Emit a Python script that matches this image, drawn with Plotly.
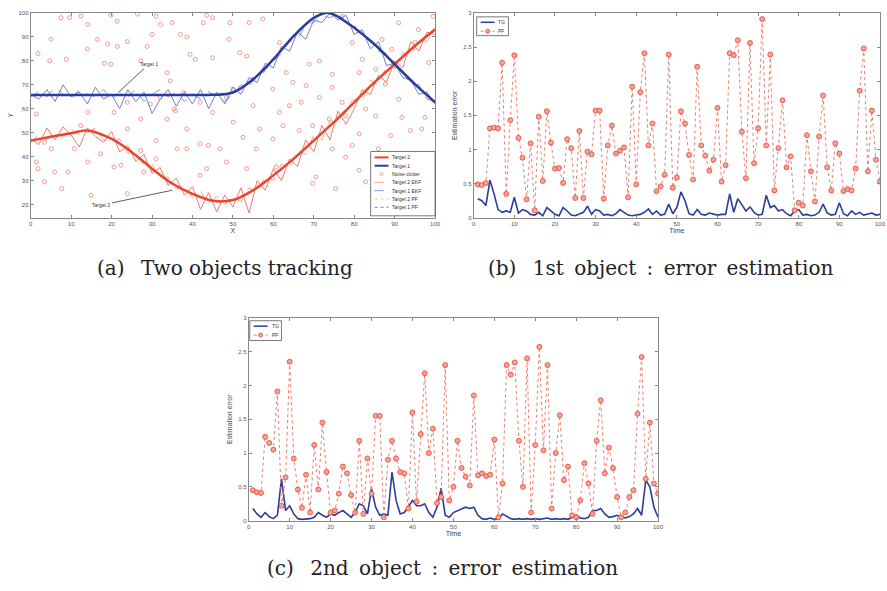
import plotly.graph_objects as go

# ---------------- Panel (a): two objects tracking ----------------
truth_x = [0, 5, 10, 14, 20, 25, 30, 35, 40, 45, 50, 55, 60, 65, 70, 73, 75, 80, 85, 90, 95, 100]
target2_y = [46.7, 48.3, 49.8, 50.9, 47.4, 41.9, 35.0, 28.8, 24.5, 21.6, 21.9, 26.0, 32.2, 39.1, 46.7, 51.4, 54.4, 62.7, 71.0, 78.6, 86.2, 93.1]
target1_y = [65.7, 65.7, 65.7, 65.7, 65.7, 65.7, 65.7, 65.7, 65.7, 65.8, 66.8, 72.3, 80.6, 90.3, 97.9, 100.0, 99.3, 93.8, 86.9, 78.6, 70.3, 62.7]

noisy_x = list(range(0, 101, 2))
target2_pf = [47.5, 45.0, 52.0, 47.0, 52.5, 49.0, 44.0, 52.0, 48.5, 46.0, 50.5, 42.0, 44.5, 38.0, 41.0, 33.0,
              35.5, 28.0, 31.0, 24.0, 27.5, 18.0, 25.0, 17.0, 24.0, 19.0, 27.0, 16.5, 30.0, 26.0, 35.0, 30.0,
              39.0, 36.0, 47.0, 42.0, 53.0, 47.0, 59.0, 53.5, 60.0, 68.0, 66.0, 74.0, 71.0, 80.0, 77.0, 88.0,
              84.0, 92.0, 91.0]
target2_ekf = [46.0, 49.0, 47.0, 50.5, 48.0, 51.5, 49.0, 50.0, 52.0, 47.0, 46.0, 47.5, 41.5, 42.0, 36.5, 37.0,
               31.0, 31.5, 26.5, 28.0, 23.0, 25.5, 20.5, 23.5, 20.0, 23.5, 21.0, 27.0, 25.0, 32.0, 30.0, 37.0,
               35.0, 42.5, 41.0, 49.0, 47.0, 55.0, 54.0, 61.0, 64.0, 63.0, 72.0, 70.0, 78.0, 77.0, 83.5, 82.0,
               89.0, 88.0, 94.0]
target1_pf = [66, 64, 68, 63, 70, 65, 67, 62, 69, 64, 66, 60, 68, 63, 67, 58, 64, 68, 61, 67, 62, 68, 60, 67, 62,
              69, 66, 73, 71, 79, 77, 86, 84, 92, 89, 97, 96, 100, 97, 99, 91, 93, 85, 88, 78, 79, 73, 72, 66, 67, 62]
target1_ekf = [65, 67, 65, 69, 66, 64, 68, 66, 65, 68, 64, 67, 65, 68, 63, 66, 68, 65, 67, 63, 66, 64, 67, 65, 63,
               66, 70, 69, 75, 76, 80, 83, 88, 89, 95, 96, 99, 98, 100, 96, 95, 90, 89, 84, 83, 77, 76, 70, 70, 64, 63]

clutter_x = [7.5, 9.6, 12.4, 19.8, 21.4, 26.4, 31, 35, 38.6, 43.5, 45, 49, 54, 57.4, 5, 1.8, 4.7, 8.8, 14, 18.2,
             19.8, 19, 21.4, 23.9, 27.2, 28.8, 30, 33.7, 34.5, 39.4, 40.7, 45, 32, 29.6, 23.9, 37.8, 35.4, 41.9,
             48.4, 50, 45, 38.6, 33.7, 31, 27.2, 23.9, 20.6, 41.9, 36.2, 31, 28, 20.6, 22.3, 17.3, 10.8, 5.1, 1.4,
             1.8, 5.9, 9.2, 3.4, 7.7, 14.9, 23.9, 43.9, 46.8, 48.4, 41.9, 43.5, 53.4, 55.8, 60.7, 59.9, 62.4, 66.4,
             69.7, 61.5, 64, 64.8, 63.2, 57.4, 59.9, 68.1, 68.9, 71.4, 74.6, 74.6, 77, 71.4, 77.9, 81.2, 82, 85.3,
             86.9, 91, 95.1, 95.9, 98.4, 91, 91.8, 97.5, 96.7, 93.9, 82.8, 85.3, 81.2, 79.5, 74.6, 77.9, 82.8, 81.2,
             69.7, 70.5, 86, 89, 99.5, 87.7, 89.3, 77, 79.5, 61.5, 53.4, 55, 49.3, 51.7, 42.7, 32.1, 37, 14.1, 16.5,
             1.4, 3.4, 14.1, 12.4, 14.1, 27.2, 38.6, 35.8, 50.1, 55, 56.6, 52.5, 66.9, 73.8, 75.4]
clutter_y = [98, 98, 98.6, 99, 96.5, 99.5, 98.6, 96, 90, 99, 98, 89, 96, 97.5, 89, 83, 80, 80.6, 85, 79,
             78.6, 87, 86, 88, 80, 86, 91, 75, 71.6, 82.7, 80.6, 81.3, 64.7, 62, 62.7, 66.8, 60, 62.7,
             64.7, 68.2, 58.5, 51.6, 55.7, 46.7, 55.7, 51.6, 58.5, 45.4, 43.3, 39.1, 33.6, 35.7, 36.4, 41.2, 43.3, 43.3, 37.8,
             35, 33.6, 33.6, 29.5, 26.7, 23.9, 24.6, 44.7, 43.3, 37.8, 32.2, 35, 35, 43.3, 35.7, 47.4, 53, 50.9,
             53, 58.5, 61.3, 71, 75.1, 75.8, 68.2, 69.6, 78.6, 80, 68.9, 74.4, 62.7, 64.7, 57.1, 75.1, 80.6, 76.5,
             88.9, 95.9, 87.6, 93.1, 79.3, 64, 56.4, 56.4, 51.6, 50.9, 59.9, 57.1, 49.5, 44.7, 43.3, 39.8, 29.5, 34.3,
             28.8, 31.5, 43.3, 48.8, 98.6, 70.3, 84.8, 98.6, 87.6, 87.6, 82, 72.3, 95.9, 83.4, 95.9, 95.2, 91, 95.2, 88.9,
             57.8, 46, 58.5, 53, 37.8, 42.6, 43.3, 59.2, 54.4, 61.3, 51.6, 48.1, 62.7, 55.7, 26.7]

# ---------------- Panel (b): 1st object error ----------------
time_b = list(range(1, 101))
b_tg = [0.28, 0.25, 0.18, 0.55, 0.35, 0.12, 0.08, 0.10, 0.08, 0.30,
        0.07, 0.12, 0.10, 0.05, 0.04, 0.08, 0.03, 0.15, 0.10, 0.05,
        0.03, 0.15, 0.10, 0.04, 0.03, 0.05, 0.08, 0.17, 0.05, 0.12,
        0.10, 0.04, 0.05, 0.03, 0.06, 0.12, 0.08, 0.04, 0.03, 0.04,
        0.05, 0.08, 0.13, 0.05, 0.10, 0.04, 0.05, 0.20, 0.06, 0.15,
        0.38, 0.25, 0.06, 0.04, 0.12, 0.05, 0.04, 0.07, 0.05, 0.04,
        0.05, 0.05, 0.35, 0.08, 0.28, 0.18, 0.10, 0.16, 0.08, 0.04,
        0.05, 0.33, 0.15, 0.18, 0.10, 0.12, 0.06, 0.03, 0.10, 0.12,
        0.04, 0.05, 0.03, 0.04, 0.08, 0.20, 0.07, 0.04, 0.05, 0.22,
        0.06, 0.03, 0.10, 0.05, 0.08, 0.04, 0.05, 0.07, 0.04, 0.05]
b_pf = [0.49, 0.48, 0.51, 1.31, 1.32, 1.31, 2.27, 0.35, 1.43, 2.38,
        1.17, 0.88, 0.27, 1.09, 0.11, 1.48, 0.54, 1.56, 1.10, 0.72,
        0.73, 0.51, 1.15, 1.02, 0.29, 1.27, 0.29, 0.97, 0.93, 1.57,
        1.57, 0.28, 1.06, 1.35, 0.94, 0.98, 1.03, 0.30, 1.92, 0.49,
        1.84, 2.41, 1.06, 1.38, 0.39, 0.46, 0.63, 2.39, 0.44, 0.59,
        1.56, 1.38, 0.92, 0.56, 2.21, 1.06, 0.91, 0.69, 0.85, 1.61,
        0.53, 0.77, 2.41, 2.38, 2.60, 1.26, 0.58, 2.56, 0.80, 1.31,
        2.91, 1.06, 2.39, 0.40, 1.02, 1.72, 0.74, 0.90, 0.11, 0.22,
        0.18, 1.21, 0.68, 0.24, 1.19, 1.79, 0.74, 0.40, 1.09, 0.94,
        0.39, 0.42, 0.40, 0.72, 1.86, 2.48, 0.68, 1.57, 0.85, 0.53]

# ---------------- Panel (c): 2nd object error ----------------
time_c = list(range(1, 101))
c_tg = [0.18, 0.10, 0.05, 0.12, 0.06, 0.03, 0.08, 0.62, 0.15, 0.22,
        0.10, 0.03, 0.02, 0.02, 0.03, 0.05, 0.12, 0.08, 0.05, 0.10,
        0.08, 0.12, 0.15, 0.10, 0.05, 0.12, 0.25, 0.22, 0.10, 0.47,
        0.20, 0.08, 0.10, 0.08, 0.72, 0.30, 0.10, 0.12, 0.20, 0.30,
        0.22, 0.22, 0.25, 0.12, 0.05, 0.20, 0.48, 0.08, 0.05, 0.12,
        0.15, 0.18, 0.20, 0.18, 0.20, 0.08, 0.03, 0.02, 0.04, 0.02,
        0.03, 0.10, 0.06, 0.03, 0.02, 0.03, 0.02, 0.03, 0.02, 0.03,
        0.02, 0.03, 0.04, 0.02, 0.03, 0.02, 0.03, 0.02, 0.05, 0.08,
        0.04, 0.03, 0.05, 0.15, 0.15, 0.18, 0.10, 0.05, 0.06, 0.08,
        0.05, 0.04, 0.06, 0.10, 0.18, 0.08, 0.60, 0.50, 0.20, 0.05]
c_pf = [0.45, 0.42, 0.41, 1.24, 1.15, 1.05, 1.91, 0.22, 0.64, 2.35,
        0.92, 0.46, 0.19, 0.68, 0.12, 1.12, 0.46, 1.45, 0.72, 0.12,
        0.15, 0.40, 0.80, 0.70, 0.38, 0.12, 1.18, 0.10, 0.92, 0.40,
        1.55, 1.55, 0.05, 0.90, 1.18, 0.92, 0.72, 0.70, 0.18, 1.60,
        0.28, 1.28, 2.18, 1.00, 1.36, 0.26, 0.35, 2.30, 0.30, 0.50,
        1.18, 0.78, 0.65, 0.52, 1.85, 0.67, 0.70, 0.66, 0.68, 1.20,
        0.05, 0.55, 2.30, 2.16, 2.34, 1.18, 0.50, 2.40, 0.12, 1.12,
        2.57, 1.04, 2.30, 0.18, 1.00, 1.56, 0.60, 0.80, 0.08, 0.05,
        0.30, 0.85, 0.55, 0.10, 1.18, 1.78, 0.70, 1.08, 0.78, 0.35,
        0.05, 0.12, 0.35, 0.45, 1.58, 2.42, 0.62, 1.45, 0.55, 0.40]

a_xticks = list(range(0, 101, 10))
a_yticks = list(range(20, 101, 10))
err_yticks = [0, 0.5, 1, 1.5, 2, 2.5, 3]

legend_a_names = ["Target 2", "Target 1", "Noise clutter", "Target 2 EKF", "Target 1 EKF", "Target 2 PF", "Target 1 PF"]
legend_err_names = ["TG", "PF"]

RED = "#e8442e"
BLUE = "#2b3c99"
LRED = "#f07a6a"
LBLUE = "#6f7fd0"
CLUT = "#f29a90"
TICKFONT = dict(family="Liberation Sans", size=6, color="#555")

fig = go.Figure()

# panel (a)
fig.add_trace(go.Scatter(x=clutter_x, y=clutter_y, mode="markers", name="Noise clutter",
                         marker=dict(symbol="circle-open", size=4, color=CLUT, line=dict(width=1)),
                         xaxis="x", yaxis="y"))
fig.add_trace(go.Scatter(x=noisy_x, y=target2_ekf, mode="lines", name="Target 2 EKF",
                         line=dict(color="#f6a090", width=1, dash="dash"), xaxis="x", yaxis="y"))
fig.add_trace(go.Scatter(x=noisy_x, y=target2_pf, mode="lines", name="Target 2 PF",
                         line=dict(color=LRED, width=1), xaxis="x", yaxis="y"))
fig.add_trace(go.Scatter(x=noisy_x, y=target1_ekf, mode="lines", name="Target 1 EKF",
                         line=dict(color="#8a96dc", width=1, dash="dash"), xaxis="x", yaxis="y"))
fig.add_trace(go.Scatter(x=noisy_x, y=target1_pf, mode="lines", name="Target 1 PF",
                         line=dict(color=LBLUE, width=1), xaxis="x", yaxis="y"))
fig.add_trace(go.Scatter(x=truth_x, y=target2_y, mode="lines", name="Target 2", line_shape="spline",
                         line=dict(color=RED, width=2.5), xaxis="x", yaxis="y"))
fig.add_trace(go.Scatter(x=truth_x, y=target1_y, mode="lines", name="Target 1", line_shape="spline",
                         line=dict(color=BLUE, width=2.5), xaxis="x", yaxis="y"))

# panel (b)
fig.add_trace(go.Scatter(x=time_b, y=b_tg, mode="lines", name="TG", line=dict(color=BLUE, width=1.6),
                         xaxis="x2", yaxis="y2"))
fig.add_trace(go.Scatter(x=time_b, y=b_pf, mode="lines+markers", name="PF",
                         line=dict(color=LRED, width=1, dash="dot"),
                         marker=dict(symbol="circle", size=5, color="#f4a39a", line=dict(color=RED, width=0.8)),
                         xaxis="x2", yaxis="y2"))

# panel (c)
fig.add_trace(go.Scatter(x=time_c, y=c_tg, mode="lines", name="TG", line=dict(color=BLUE, width=1.6),
                         xaxis="x3", yaxis="y3"))
fig.add_trace(go.Scatter(x=time_c, y=c_pf, mode="lines+markers", name="PF",
                         line=dict(color=LRED, width=1, dash="dot"),
                         marker=dict(symbol="circle", size=5, color="#f4a39a", line=dict(color=RED, width=0.8)),
                         xaxis="x3", yaxis="y3"))

W, H = 887, 591
def px_x(p):
    return p / W
def px_y(p):
    return 1 - p / H

shapes = []
annotations = []

# compact MATLAB-style legend boxes (decoration, built in paper coordinates)
def add_legend(box, names, styles, row_h, row0):
    x0, y0, x1, y1 = box
    shapes.append(dict(type="rect", xref="paper", yref="paper", x0=px_x(x0), x1=px_x(x1),
                       y0=px_y(y1), y1=px_y(y0), line=dict(color="#555", width=0.8), fillcolor="white",
                       layer="above"))
    for i, (name, st) in enumerate(zip(names, styles)):
        yy = row0 + i * row_h
        lx0, lx1 = x0 + 4, x0 + 18
        if st.get("line"):
            shapes.append(dict(type="line", xref="paper", yref="paper", x0=px_x(lx0), x1=px_x(lx1),
                               y0=px_y(yy), y1=px_y(yy), line=st["line"], layer="above"))
        if st.get("marker"):
            cx = (lx0 + lx1) / 2
            r = st["marker"].get("r", 1.8)
            shapes.append(dict(type="circle", xref="paper", yref="paper", x0=px_x(cx - r), x1=px_x(cx + r),
                               y0=px_y(yy + r), y1=px_y(yy - r), layer="above",
                               line=dict(color=st["marker"]["color"], width=0.8),
                               fillcolor=st["marker"].get("fill", "rgba(0,0,0,0)")))
        annotations.append(dict(text=name, x=px_x(lx1 + 2), y=px_y(yy), xref="paper", yref="paper",
                                xanchor="left", yanchor="middle", showarrow=False,
                                font=dict(family="Liberation Sans", size=5, color="#333")))

styles_a = [dict(line=dict(color=RED, width=2)),
            dict(line=dict(color=BLUE, width=2)),
            dict(marker=dict(color=CLUT, r=1.6)),
            dict(line=dict(color="#f6a090", width=1, dash="dash")),
            dict(line=dict(color="#8a96dc", width=1, dash="dash")),
            dict(line=dict(color="#e6d070", width=1, dash="dot")),
            dict(line=dict(color=LBLUE, width=1, dash="dot"))]
add_legend((372, 150, 437, 215), legend_a_names, styles_a, 8.4, 156)

styles_err = [dict(line=dict(color=BLUE, width=1.5)),
              dict(line=dict(color=LRED, width=1, dash="dot"), marker=dict(color=RED, fill="#f4a39a", r=2))]
add_legend((479, 14, 511, 33), legend_err_names, styles_err, 9, 19.5)
add_legend((250, 321, 282, 341), legend_err_names, styles_err, 9, 326.5)

axis_common = dict(showline=True, linecolor="#888", linewidth=1, mirror="ticks", ticks="inside",
                   ticklen=3, tickcolor="#888", showgrid=False, zeroline=False, tickfont=TICKFONT)
TITLEFONT = dict(family="Liberation Sans", size=7, color="#444")
CAPFONT = dict(family="DejaVu Serif", size=20, color="#222")

GAP = "\u2002\u00a0"
WS = "\u00a0\u2009"
cap_a = "(a)" + GAP + "Two objects tracking"
cap_b = "(b)" + GAP + WS.join(["1st", "object", ":", "error", "estimation"])
cap_c = "(c)" + GAP + WS.join(["2nd", "object", ":", "error", "estimation"])

annotations += [
    dict(text="Target 1", x=21.8, y=67, xref="x", yref="y", ax=29.2, ay=78.6, axref="x", ayref="y",
         showarrow=True, arrowhead=0, arrowwidth=0.8, arrowcolor="#333",
         font=dict(family="Liberation Sans", size=5, color="#333")),
    dict(text="Target 2", x=35, y=26, xref="x", yref="y", ax=17.5, ay=19.8, axref="x", ayref="y",
         showarrow=True, arrowhead=0, arrowwidth=0.8, arrowcolor="#333",
         font=dict(family="Liberation Sans", size=5, color="#333")),
    dict(text=cap_a, x=px_x(225), y=px_y(268), xref="paper", yref="paper",
         xanchor="center", yanchor="middle", showarrow=False, font=CAPFONT),
    dict(text=cap_b, x=px_x(665), y=px_y(268), xref="paper", yref="paper",
         xanchor="center", yanchor="middle", showarrow=False, font=CAPFONT),
    dict(text=cap_c, x=px_x(445), y=px_y(571), xref="paper", yref="paper",
         xanchor="center", yanchor="middle", showarrow=False, font=CAPFONT),
]

fig.update_layout(
    width=W, height=H, margin=dict(l=0, r=0, t=0, b=0),
    paper_bgcolor="white", plot_bgcolor="white", showlegend=False,
    xaxis=dict(domain=[px_x(29), px_x(437)], range=[0, 100], tickvals=a_xticks, anchor="y",
               title=dict(text="X", font=TITLEFONT, standoff=2), **axis_common),
    yaxis=dict(domain=[px_y(217), px_y(10)], range=[14.5, 100], tickvals=a_yticks, anchor="x",
               title=dict(text="Y", font=TITLEFONT, standoff=4), **axis_common),
    xaxis2=dict(domain=[px_x(476), px_x(886)], range=[0, 100], tickvals=a_xticks, anchor="y2",
                title=dict(text="Time", font=TITLEFONT, standoff=2), **axis_common),
    yaxis2=dict(domain=[px_y(217), px_y(10)], range=[0, 3], tickvals=err_yticks, anchor="x2",
                title=dict(text="Estimation error", font=TITLEFONT, standoff=4), **axis_common),
    xaxis3=dict(domain=[px_x(249), px_x(662)], range=[0, 100], tickvals=a_xticks, anchor="y3",
                title=dict(text="Time", font=TITLEFONT, standoff=2), **axis_common),
    yaxis3=dict(domain=[px_y(523), px_y(318)], range=[0, 3], tickvals=err_yticks, anchor="x3",
                title=dict(text="Estimation error", font=TITLEFONT, standoff=4), **axis_common),
    shapes=shapes,
    annotations=annotations,
)

fig.write_html("out.html")
